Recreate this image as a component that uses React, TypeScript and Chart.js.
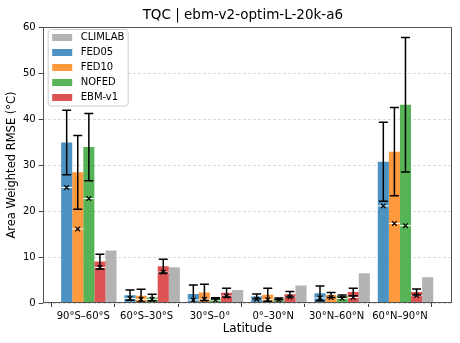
import React, { useEffect, useRef } from 'react';
import { Chart, registerables } from 'chart.js';
Chart.register(...registerables);

const categories = ['90°S–60°S', '60°S–30°S', '30°S–0°', '0°–30°N', '30°N–60°N', '60°N–90°N'];
const yTicks = [0, 10, 20, 30, 40, 50, 60];

const climlab = [11.4, 7.75, 2.8, 3.8, 6.45, 5.6];

const fed05 = [34.9, 1.7, 1.96, 1.4, 2.1, 30.7];
const fed05Err = [7.0, 1.1, 1.95, 0.55, 1.6, 8.6];
const fed05Mark = [25.1, 1.0, 0.65, 0.8, 1.1, 21.1];

const fed10 = [28.4, 1.6, 2.3, 1.8, 1.74, 32.9];
const fed10Err = [8.0, 1.4, 1.75, 1.4, 0.55, 9.6];
const fed10Mark = [16.1, 0.8, 0.8, 0.7, 1.2, 17.3];

const nofed = [33.9, 1.2, 1.0, 0.9, 1.5, 43.1];
const nofedErr = [7.3, 0.7, 0.15, 0.2, 0.25, 14.6];
const nofedMark = [22.7, 0.8, 0.65, 0.65, 1.0, 16.8];

const ebm = [9.0, 8.0, 2.25, 1.9, 2.4, 2.4];
const ebmErr = [1.6, 1.5, 0.95, 0.6, 0.8, 0.65];
const ebmMark = [7.7, 6.7, 1.5, 1.3, 1.2, 1.6];

const FONT = '"DejaVu Sans", sans-serif';

const COLORS = {
  climlab: 'rgba(160,160,160,0.8)',
  fed05: 'rgba(31,119,180,0.8)',
  fed10: 'rgba(255,127,14,0.8)',
  nofed: 'rgba(44,160,44,0.8)',
  ebm: 'rgba(214,39,40,0.8)',
};

const legendItems = [
  { label: 'CLIMLAB', color: COLORS.climlab },
  { label: 'FED05', color: COLORS.fed05 },
  { label: 'FED10', color: COLORS.fed10 },
  { label: 'NOFED', color: COLORS.nofed },
  { label: 'EBM-v1', color: COLORS.ebm },
];

const toXY = (arr: number[]) => arr.map((v, i) => ({ x: i, y: v }));

export default function App() {
  const ref = useRef<HTMLCanvasElement>(null);
  useEffect(() => {
    document.body.style.margin = '0';
    const canvas = ref.current!;
    const extras: Record<number, { err: number[]; mark: number[] }> = {
      1: { err: fed05Err, mark: fed05Mark },
      2: { err: fed10Err, mark: fed10Mark },
      3: { err: nofedErr, mark: nofedMark },
      4: { err: ebmErr, mark: ebmMark },
    };
    const decor = {
      id: 'decor',
      afterDatasetsDraw(chart: any) {
        const { ctx, chartArea: a, scales } = chart;
        const ys = scales.y;
        ctx.save();
        ctx.beginPath();
        ctx.rect(a.left, a.top, a.right - a.left, a.bottom - a.top);
        ctx.clip();
        Object.keys(extras).forEach((k) => {
          const di = Number(k);
          const meta = chart.getDatasetMeta(di);
          const vals = chart.data.datasets[di].data as any[];
          const { err, mark } = extras[di];
          meta.data.forEach((bar: any, i: number) => {
            const x = bar.x;
            const w = bar.width;
            const v = vals[i].y;
            const my = ys.getPixelForValue(mark[i]);
            ctx.strokeStyle = '#ffffff';
            ctx.lineWidth = 1;
            ctx.beginPath();
            ctx.moveTo(x - w / 2, my);
            ctx.lineTo(x + w / 2, my);
            ctx.stroke();
            const yt = ys.getPixelForValue(v + err[i]);
            const yb = ys.getPixelForValue(v - err[i]);
            ctx.strokeStyle = '#000000';
            ctx.lineWidth = 1.5;
            ctx.beginPath();
            ctx.moveTo(x, yt);
            ctx.lineTo(x, yb);
            ctx.moveTo(x - 4.5, yt);
            ctx.lineTo(x + 4.5, yt);
            ctx.moveTo(x - 4.5, yb);
            ctx.lineTo(x + 4.5, yb);
            ctx.stroke();
            ctx.lineWidth = 1.2;
            const s = 2.3;
            ctx.beginPath();
            ctx.moveTo(x - s, my - s);
            ctx.lineTo(x + s, my + s);
            ctx.moveTo(x - s, my + s);
            ctx.lineTo(x + s, my - s);
            ctx.stroke();
          });
        });
        ctx.restore();
      },
      afterDraw(chart: any) {
        const { ctx, chartArea: a } = chart;
        ctx.save();
        ctx.strokeStyle = '#555555';
        ctx.lineWidth = 1;
        ctx.strokeRect(Math.round(a.left) + 0.5, Math.round(a.top) + 0.5, Math.round(a.right - a.left) - 1, Math.round(a.bottom - a.top) - 1);
        ctx.fillStyle = '#000';
        ctx.font = `13.5px ${FONT}`;
        ctx.textAlign = 'center';
        ctx.textBaseline = 'alphabetic';
        ctx.fillText('TQC | ebm-v2-optim-L-20k-a6', (a.left + a.right) / 2 - 4.5, 18.5);
        const lx = a.left + 5.5, ly = a.top + 2.5, lw = 80, lh = 76.5;
        ctx.fillStyle = 'rgba(255,255,255,0.8)';
        ctx.strokeStyle = '#cccccc';
        ctx.lineWidth = 1;
        ctx.beginPath();
        (ctx as any).roundRect(lx, ly, lw, lh, 3);
        ctx.fill();
        ctx.stroke();
        ctx.font = `10px ${FONT}`;
        ctx.textAlign = 'left';
        ctx.textBaseline = 'middle';
        legendItems.forEach((it, i) => {
          const cy = ly + 8 + i * 15;
          ctx.fillStyle = it.color;
          ctx.fillRect(lx + 4, cy - 3.5, 20, 7);
          ctx.fillStyle = '#000';
          ctx.fillText(it.label, lx + 32.5, cy);
        });
        ctx.restore();
      },
    };

    const chart = new Chart(canvas, {
      type: 'bar',
      data: {
        datasets: [
          { label: '_pad', data: toXY([0, 0, 0, 0, 0, 0]), backgroundColor: 'rgba(0,0,0,0)' },
          { label: 'FED05', data: toXY(fed05), backgroundColor: COLORS.fed05 },
          { label: 'FED10', data: toXY(fed10), backgroundColor: COLORS.fed10 },
          { label: 'NOFED', data: toXY(nofed), backgroundColor: COLORS.nofed },
          { label: 'EBM-v1', data: toXY(ebm), backgroundColor: COLORS.ebm },
          { label: 'CLIMLAB', data: toXY(climlab), backgroundColor: COLORS.climlab },
        ] as any,
      },
      options: {
        responsive: false,
        animation: false,
        devicePixelRatio: 1,
        layout: { padding: { top: 27, right: 8, left: 0, bottom: 0 } },
        datasets: { bar: { categoryPercentage: 1.05, barPercentage: 1, borderWidth: 0 } } as any,
        plugins: { legend: { display: false }, tooltip: { enabled: false }, title: { display: false } },
        scales: {
          x: {
            type: 'linear',
            min: -0.641,
            max: 5.822,
            offset: false,
            afterBuildTicks: (s: any) => {
              s.ticks = categories.map((_, i) => ({ value: i }));
            },
            afterFit: (s: any) => {
              s.height = 40;
            },
            ticks: {
              autoSkip: false,
              maxRotation: 0,
              padding: 3,
              color: '#000',
              font: { family: FONT, size: 10 },
              callback: (v: any) => categories[v] ?? '',
            },
            grid: { drawOnChartArea: false, drawTicks: true, tickLength: 4, tickColor: '#444', tickWidth: 1 },
            border: { display: false },
            title: { display: true, text: 'Latitude', color: '#000', font: { family: FONT, size: 12 }, padding: { top: 0, bottom: 6.5 } },
          },
          y: {
            min: 0,
            max: 60,
            afterBuildTicks: (s: any) => {
              s.ticks = yTicks.map((v) => ({ value: v }));
            },
            afterFit: (s: any) => {
              s.width = 42.7;
            },
            ticks: { padding: 3, color: '#000', font: { family: FONT, size: 10 } },
            grid: { color: '#dcdcdc', lineWidth: 1, drawTicks: true, tickLength: 4, tickColor: '#444', tickWidth: 1 },
            border: { display: false, dash: [3, 2] },
            title: { display: true, text: 'Area Weighted RMSE (°C)', color: '#000', font: { family: FONT, size: 11.5 }, padding: { top: 5, bottom: 0 } },
          },
        },
      } as any,
      plugins: [decor],
    });
    return () => chart.destroy();
  }, []);
  return (
    <div style={{ width: 460, height: 343 }}>
      <canvas ref={ref} width={460} height={343} style={{ display: 'block' }} />
    </div>
  );
}
